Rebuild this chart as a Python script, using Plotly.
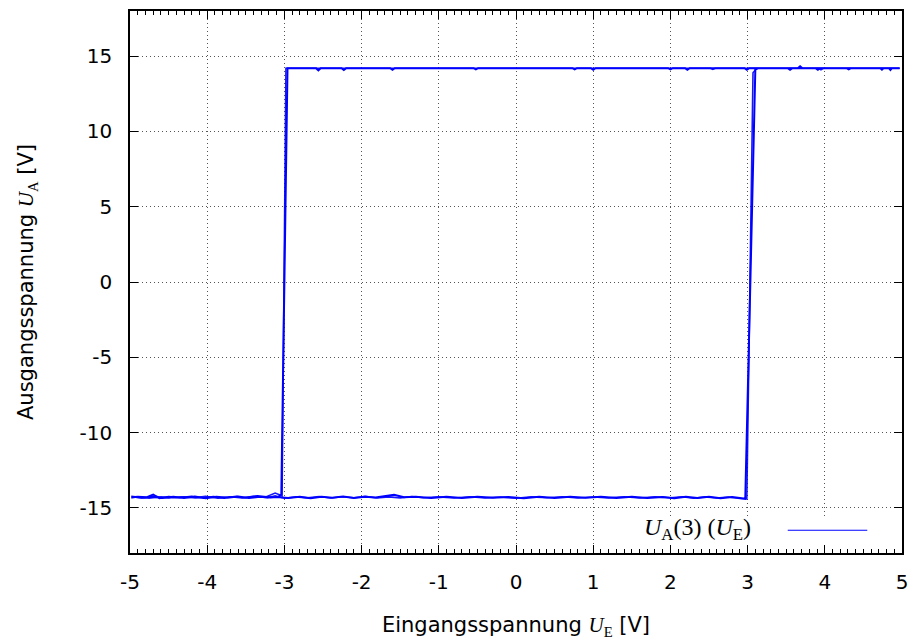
import plotly.graph_objects as go

# ---------------- data ----------------
# pass 1: upper branch going left, switch down near -3 V, lower branch to -5 V,
# lower branch back to the right, switch up near +3 V, upper branch to +5 V
pass1_x = [4.97, 4.87, 4.85, 4.83, 4.76, 4.74, 4.72, 4.34, 4.31, 4.28, 3.94, 3.91, 3.88,
           3.71, 3.68, 3.65, 3.58, 3.55, 3.52, 3.02, 2.99, 2.96, 2.25, 2.22, 2.19, 2.03,
           2.00, 1.97, 1.03, 1.00, 0.97, 0.79, 0.76, 0.73, -0.49, -0.52, -0.55, -1.57,
           -1.60, -1.63, -2.20, -2.23, -2.26, -2.53, -2.56, -2.59, -2.96, -3.04, -3.08,
           -3.20, -3.35, -3.50, -3.62, -3.78, -3.92, -4.05, -4.20, -4.35, -4.50, -4.62,
           -4.70, -4.78, -4.90, -4.97,
           -4.97, -4.85, -4.72, -4.58, -4.44, -4.30, -4.16, -4.02, -3.88, -3.74, -3.60,
           -3.46, -3.32, -3.18, -3.10, -2.95, -2.80, -2.66, -2.52, -2.38, -2.24, -2.10,
           -1.96, -1.82, -1.68, -1.58, -1.45, -1.30, -1.10, -0.90, -0.70, -0.50, -0.30,
           -0.10, 0.10, 0.30, 0.50, 0.70, 0.90, 1.10, 1.30, 1.50, 1.70, 1.90, 2.05,
           2.20, 2.35, 2.50, 2.65, 2.80, 2.95, 2.97, 3.10, 3.14, 3.40, 3.70, 4.00,
           4.30, 4.60, 4.97]
pass1_y = [14.2, 14.2, 14.08, 14.2, 14.2, 14.1, 14.2, 14.2, 14.12, 14.2, 14.2, 14.1, 14.2,
           14.2, 14.33, 14.2, 14.2, 14.1, 14.2, 14.2, 14.1, 14.2, 14.2, 14.1, 14.2, 14.2,
           14.12, 14.2, 14.2, 14.1, 14.2, 14.2, 14.12, 14.2, 14.2, 14.12, 14.2, 14.2,
           14.1, 14.2, 14.2, 14.08, 14.2, 14.2, 14.06, 14.2, 14.2, -14.1, -14.28,
           -14.3, -14.22, -14.33, -14.24, -14.34, -14.26, -14.35, -14.25, -14.33, -14.27,
           -14.36, -14.12, -14.3, -14.26, -14.3,
           -14.25, -14.33, -14.27, -14.35, -14.26, -14.34, -14.24, -14.36, -14.27, -14.33,
           -14.25, -14.35, -14.26, -14.32, -14.28, -14.34, -14.26, -14.36, -14.27, -14.33,
           -14.25, -14.35, -14.27, -14.32, -14.24, -14.14, -14.3, -14.26, -14.34, -14.27,
           -14.35, -14.26, -14.33, -14.28, -14.36, -14.27, -14.34, -14.26, -14.33, -14.27,
           -14.35, -14.26, -14.34, -14.28, -14.36, -14.27, -14.35, -14.26, -14.37,
           -14.28, -14.38, -14.4, 14.1, 14.2, 14.2, 14.2, 14.2, 14.2, 14.2, 14.2]

# pass 2: the same loop a second time (slightly different switching points)
pass2_x = [4.97, 4.60, 4.30, 3.98, 3.95, 3.92, 3.60, 3.30, 3.02, 2.90, 2.58, 2.55, 2.52,
           2.10, 1.70, 1.30, 0.90, 0.50, 0.10, -0.30, -0.70, -1.10, -1.50, -1.90, -2.30,
           -2.70, -2.98, -3.03, -3.12, -3.25, -3.40, -3.55, -3.70, -3.85, -4.00, -4.15,
           -4.30, -4.45, -4.60, -4.75, -4.90, -4.97,
           -4.97, -4.82, -4.66, -4.50, -4.34, -4.18, -4.02, -3.86, -3.70, -3.54, -3.38,
           -3.22, -3.12, -3.00, -2.85, -2.70, -2.55, -2.40, -2.25, -2.10, -1.95, -1.80,
           -1.65, -1.50, -1.35, -1.20, -1.00, -0.80, -0.60, -0.40, -0.20, 0.00, 0.20,
           0.40, 0.60, 0.80, 1.00, 1.20, 1.40, 1.60, 1.80, 2.00, 2.15, 2.30, 2.45, 2.60,
           2.75, 2.90, 2.99, 3.07, 3.12, 3.40, 3.70, 4.00, 4.30, 4.60, 4.97]
pass2_y = [14.2, 14.2, 14.2, 14.2, 14.1, 14.2, 14.2, 14.2, 14.2, 14.2, 14.2, 14.12, 14.2,
           14.2, 14.2, 14.2, 14.2, 14.2, 14.2, 14.2, 14.2, 14.2, 14.2, 14.2, 14.2,
           14.2, 14.2, -14.2, -14.02, -14.3, -14.24, -14.34, -14.26, -14.33, -14.25,
           -14.35, -14.27, -14.33, -14.26, -14.36, -14.27, -14.3,
           -14.28, -14.34, -14.25, -14.35, -14.27, -14.33, -14.24, -14.36, -14.26, -14.34,
           -14.25, -14.33, -14.2, -14.36, -14.27, -14.34, -14.25, -14.35, -14.26, -14.33,
           -14.24, -14.35, -14.27, -14.34, -14.25, -14.33, -14.27, -14.35, -14.26,
           -14.34, -14.28, -14.36, -14.27, -14.33, -14.26, -14.35, -14.28, -14.34,
           -14.26, -14.35, -14.27, -14.33, -14.26, -14.36, -14.27, -14.35, -14.28,
           -14.38, -14.4, 13.9, 14.2, 14.2, 14.2, 14.2, 14.2, 14.2, 14.2]

x_ticks = [-5, -4, -3, -2, -1, 0, 1, 2, 3, 4, 5]
x_tick_text = ["-5", "-4", "-3", "-2", "-1", "0", "1", "2", "3", "4", "5"]
y_ticks = [-15, -10, -5, 0, 5, 10, 15]
y_tick_text = ["-15", "-10", "-5", "0", "5", "10", "15"]

series_name = "<i>U</i><sub>A</sub>(3) (<i>U</i><sub>E</sub>)"

# ---------------- figure ----------------
BLUE = "#0000ff"
SANS = "DejaVu Sans"
SERIF = "Liberation Serif"

fig = go.Figure()
fig.add_trace(go.Scatter(x=pass1_x, y=pass1_y, mode="lines",
                         line=dict(color=BLUE, width=2), showlegend=False,
                         name=series_name))
fig.add_trace(go.Scatter(x=pass2_x, y=pass2_y, mode="lines",
                         line=dict(color=BLUE, width=1.6), opacity=0.9,
                         showlegend=False, name=series_name))

axis_common = dict(
    showline=True, linecolor="black", linewidth=1.5, mirror="allticks",
    ticks="inside", ticklen=8, tickwidth=1.2, tickcolor="black",
    showgrid=True, gridcolor="#555555", griddash="1px,3px", gridwidth=1,
    zeroline=False, automargin=False,
    tickfont=dict(family=SANS, size=20, color="black"),
)

fig.update_xaxes(
    range=[-5, 5], tickmode="array", tickvals=x_ticks, ticktext=x_tick_text,
    minor=dict(ticks="inside", ticklen=4, tickwidth=1, tickcolor="black",
               dtick=0.1, showgrid=False),
    title=dict(text="Eingangsspannung <span style=\"font-family:'Liberation Serif'\"><i>U</i><sub>E</sub></span> [V]",
               font=dict(family=SANS, size=21, color="black"), standoff=25),
    ticklabelstandoff=10,
    **axis_common)
fig.update_yaxes(
    range=[-18, 18], tickmode="array", tickvals=y_ticks, ticktext=y_tick_text,
    title=dict(text="Ausgangsspannung <span style=\"font-family:'Liberation Serif'\"><i>U</i><sub>A</sub></span> [V]",
               font=dict(family=SANS, size=21, color="black"), standoff=40),
    ticklabelstandoff=12,
    **axis_common)

# legend (gnuplot style: text left, line sample right, white box)
fig.add_shape(type="rect", xref="paper", yref="paper", x0=0.62, x1=0.985,
              y0=0.015, y1=0.068, fillcolor="white", line=dict(width=0), layer="above")
fig.add_shape(type="line", xref="paper", yref="paper", x0=0.852, x1=0.955,
              y0=0.042, y1=0.042, line=dict(color=BLUE, width=1.2), layer="above")
fig.add_annotation(xref="paper", yref="paper", x=0.807, y=0.045, xanchor="right",
                   yanchor="middle", text=series_name, showarrow=False,
                   font=dict(family=SERIF, size=24, color="black"))

fig.update_layout(
    width=915, height=642, autosize=False,
    margin=dict(l=130, r=13, t=11, b=89),
    plot_bgcolor="white", paper_bgcolor="white",
    showlegend=False,
)

fig.write_html("out.html")
